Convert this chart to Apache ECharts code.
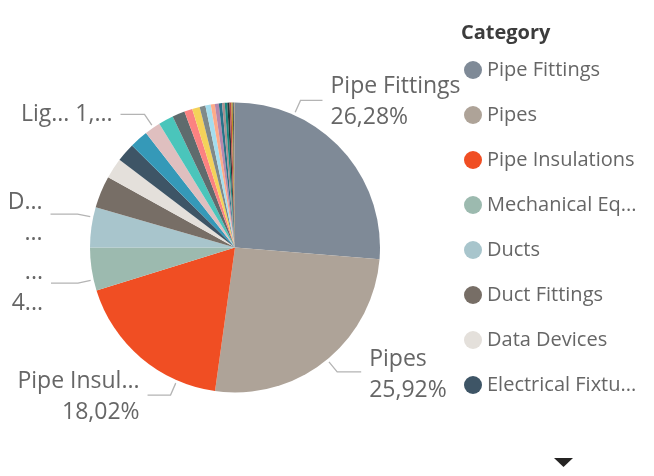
<!DOCTYPE html>
<html><head><meta charset="utf-8">
<script src="https://cdn.jsdelivr.net/npm/echarts@6/dist/echarts.min.js"></script>
<style>html,body{margin:0;padding:0;background:#fff}#c{width:654px;height:476px}</style>
</head><body><div id="c"></div>
<script>
// ---- data ----
const categories = [
  'Pipe Fittings','Pipes','Pipe Insulations','Mechanical Equipment','Ducts','Duct Fittings',
  'Data Devices','Electrical Fixtures','Conduits','Lighting Fixtures','Cable Trays','Conduit Fittings',
  'Plumbing Fixtures','Air Terminals','Pipe Accessories','Cable Tray Fittings','Duct Accessories',
  'Sprinklers','Electrical Equipment','Communication Devices','Fire Alarm Devices','Flex Ducts',
  'Flex Pipes','Duct Insulations','Security Devices','Specialty Equipment','Generic Models'
];
const values = [
  26.28, 25.92, 18.02, 4.78, 4.47, 3.58,
  2.28, 2.10, 2.05, 1.78, 1.67, 1.40,
  0.90, 0.85, 0.64, 0.60, 0.45,
  0.44, 0.36, 0.30, 0.28, 0.25,
  0.20, 0.15, 0.12, 0.08, 0.05
];
const legendTitle = 'Category';
const legendCount = 8;
// labels shown on the pie: [name chars kept, percent chars kept, separator] (null = full text)
const labelCut = {
  'Pipe Fittings': [null, null, '\n'],
  'Pipes': [null, null, '\n'],
  'Pipe Insulations': [10, null, '\n'],
  'Mechanical Equipment': [0, 1, '\n'],
  'Ducts': [1, 0, '\n'],
  'Lighting Fixtures': [3, 2, ' ']
};

// ---- style / layout ----
const palette = ['#7F8A97','#AEA398','#F04E23','#9CBAAF','#A8C5CC','#776E66','#E4E0DB','#3E5566',
  '#3599B8','#DFBFBF','#4AC5BB','#5F6B6D','#FB8281','#F4D25A','#7F898A','#A4DDEE','#FDAB89',
  '#B687AC','#28738A','#A78F8F','#168980','#293537','#BB4A4A','#B59525','#475052','#6A9FB0','#BD7150'];
const CX = 235, CY = 247.5, R = 145;
const FONT = "'Open Sans', 'Noto Sans', sans-serif";
const anchors = {
  'Pipe Fittings':        {angle: 24,    side: 1,  reach: 22, dy: 2},
  'Pipes':                {angle: 140.6, side: 1,  reach: 24, dy: 3},
  'Pipe Insulations':     {angle: 203.6, side: -1, reach: 23, dy: 2},
  'Mechanical Equipment': {angle: 257.2, side: -1, reach: 27, dy: 5},
  'Ducts':                {angle: 282,   side: -1, reach: 27, dy: 4},
  'Lighting Fixtures':    {angle: 325.8, side: -1, reach: 24, dy: 0}
};

const cut = (s, n) => (n == null ? s : s.slice(0, n) + '...');
const data = categories.map((name, i) => {
  const shown = !!labelCut[name];
  return { name, value: values[i], label: { show: shown }, labelLine: { show: shown } };
});

const chart = echarts.init(document.getElementById('c'), null, { renderer: 'canvas' });
chart.setOption({
  animation: false,
  color: palette,
  textStyle: { fontFamily: FONT },
  title: {
    text: legendTitle, left: 461, top: 23, padding: 0,
    textStyle: { fontSize: 20, fontWeight: 'bold', color: '#3c3c3c', fontFamily: FONT }
  },
  legend: {
    orient: 'vertical', left: 464, top: 60, padding: 0,
    icon: 'circle', itemWidth: 18, itemHeight: 18, itemGap: 25,
    selectedMode: false,
    data: categories.slice(0, legendCount),
    textStyle: { fontSize: 20, color: '#666', fontFamily: FONT, lineHeight: 20,
                 width: 160, overflow: 'truncate', ellipsis: '...' }
  },
  graphic: [{
    type: 'polygon', shape: { points: [[554, 458], [573, 458], [563.5, 467]] },
    style: { fill: '#252423' }
  }],
  series: [{
    type: 'pie',
    center: [CX, CY], radius: R,
    startAngle: 90, clockwise: true,
    avoidLabelOverlap: false,
    itemStyle: { borderWidth: 0 },
    label: {
      position: 'outside', color: '#666', fontSize: 23, lineHeight: 31, fontFamily: FONT,
      formatter: p => {
        const c = labelCut[p.name];
        if (!c) return '';
        const pct = p.percent.toFixed(2).replace('.', ',') + '%';
        return cut(p.name, c[0]) + c[2] + cut(pct, c[1]);
      }
    },
    labelLine: { lineStyle: { color: '#b4b4b4', width: 1.3 } },
    labelLayout: params => {
      const a = anchors[categories[params.dataIndex]];
      if (!a) return {};
      const rad = a.angle * Math.PI / 180, sx = Math.sin(rad), sy = -Math.cos(rad);
      const p0 = [CX + (R + 3) * sx, CY + (R + 3) * sy];
      const p1 = [p0[0] + 13 * sx, p0[1] + 13 * sy];
      const p2 = [p1[0] + a.side * a.reach, p1[1]];
      return {
        x: p2[0] + a.side * 8, y: p2[1] + a.dy,
        align: a.side > 0 ? 'left' : 'right', verticalAlign: 'middle',
        labelLinePoints: [p0, p1, p2]
      };
    },
    data
  }]
});
</script></body></html>
